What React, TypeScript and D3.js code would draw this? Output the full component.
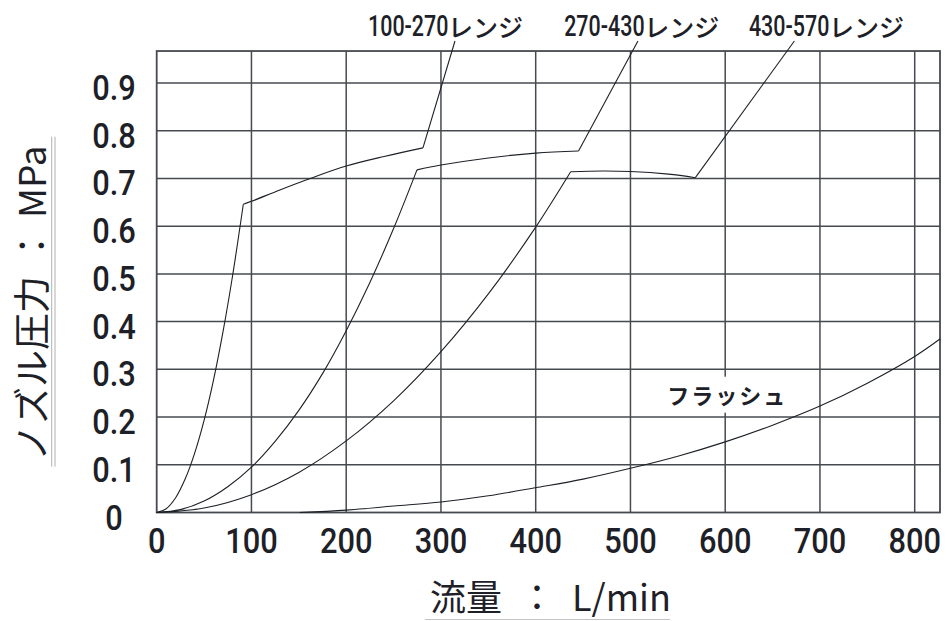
import React from "react";
import * as d3 from "d3";

// ---- data (flow L/min, pressure MPa) ----
const xTicks = [0, 100, 200, 300, 400, 500, 600, 700, 800];
const yTicks = [0, 0.1, 0.2, 0.3, 0.4, 0.5, 0.6, 0.7, 0.8, 0.9];
const yTickLabels = ["0", "0.1", "0.2", "0.3", "0.4", "0.5", "0.6", "0.7", "0.8", "0.9"];

const range100Rise: [number, number][] = [[0, 0], [10, 0.008], [20, 0.031], [30, 0.07], [40, 0.124], [50, 0.193], [60, 0.278], [70, 0.379], [80, 0.495], [91.4, 0.646]];
const range100Top: [number, number][] = [[91.4, 0.646], [100, 0.652], [130, 0.676], [162, 0.7], [200, 0.726], [240, 0.746], [281, 0.764]];
const range270Rise: [number, number][] = [[0, 0], [25, 0.006], [50, 0.024], [75, 0.054], [100, 0.095], [125, 0.149], [150, 0.214], [175, 0.291], [200, 0.381], [225, 0.482], [250, 0.595], [274.7, 0.718]];
const range270Top: [number, number][] = [[274.7, 0.718], [300, 0.728], [350, 0.743], [400, 0.753], [445.2, 0.7575]];
const range430Rise: [number, number][] = [[0, 0], [50, 0.0094], [100, 0.0374], [150, 0.084], [200, 0.15], [250, 0.234], [300, 0.337], [350, 0.458], [400, 0.598], [436.9, 0.714]];
const range430Top: [number, number][] = [[436.9, 0.714], [470, 0.7155], [500, 0.7145], [540, 0.709], [568.5, 0.7016]];
const flush: [number, number][] = [[151, 0], [200, 0.005], [250, 0.0135], [300, 0.022], [350, 0.035], [400, 0.052], [450, 0.07], [500, 0.0926], [550, 0.118], [600, 0.148], [650, 0.183], [700, 0.223], [750, 0.271], [800, 0.327], [827, 0.364]];

const rangeNames = ["100-270", "270-430", "430-570"];
const rangeSuffix = "レンジ";
// leader: from curve end to label
const leaderEnds: [number, number][] = [[314.8, 0.988], [507.9, 0.988], [673, 0.988]];
const labelAnchors: [number, number][] = [[223, 0.998], [430, 0.998], [625, 0.998]];
const flushLabel = "フラッシュ";
const flushLabelAt: [number, number] = [600, 0.228];

const xTitle = ["流量", "：", "L/min"];
const yTitle = ["ノズル圧力", "：", "MPa"];

// ---- layout ----
const W = 946, H = 621;
const xMax = 826.7, yTop = 0.967;
const ink = "#1d2127";
const gridColor = "#464a50";

export default function App() {
  const x = d3.scaleLinear().domain([0, xMax]).range([156.7, 940]);
  const y = d3.scaleLinear().domain([0, 0.9]).range([512.5, 83]);
  const smooth = d3.line<[number, number]>().x(d => x(d[0])).y(d => y(d[1])).curve(d3.curveCatmullRom.alpha(0.5));
  const straight = d3.line<[number, number]>().x(d => x(d[0])).y(d => y(d[1]));

  const rises = [range100Rise, range270Rise, range430Rise];
  const tops = [range100Top, range270Top, range430Top];

  const font = "Roboto, 'Noto Sans', sans-serif";
  const jp = "'Noto Sans CJK JP', sans-serif";

  return (
    <svg width={W} height={H} style={{ position: "absolute", left: 0, top: 0, display: "block", background: "#fff" }}>
      {/* grid */}
      {yTicks.slice(1).map(v => (
        <line key={"h" + v} x1={x(0)} x2={x(xMax)} y1={y(v)} y2={y(v)} stroke={gridColor} strokeWidth={1.5} />
      ))}
      {xTicks.slice(1).map(v => (
        <line key={"v" + v} x1={x(v)} x2={x(v)} y1={y(0)} y2={y(yTop)} stroke={gridColor} strokeWidth={1.5} />
      ))}
      <rect x={x(0)} y={y(yTop)} width={x(xMax) - x(0)} height={y(0) - y(yTop)} fill="none" stroke={gridColor} strokeWidth={1.8} />

      {/* curves */}
      {rises.map((r, i) => <path key={"r" + i} d={smooth(r) || ""} fill="none" stroke={ink} strokeWidth={1.1} />)}
      {tops.map((r, i) => <path key={"t" + i} d={smooth(r) || ""} fill="none" stroke={ink} strokeWidth={1.1} />)}
      {tops.map((r, i) => (
        <path key={"l" + i} d={straight([r[r.length - 1], leaderEnds[i]]) || ""} fill="none" stroke={ink} strokeWidth={1.1} />
      ))}
      <path d={smooth(flush) || ""} fill="none" stroke={ink} strokeWidth={1.1} />

      {/* flush label */}
      <rect x={x(flushLabelAt[0]) - 62} y={y(flushLabelAt[1]) - 27} width={124} height={36} fill="#fff" />
      <text x={x(flushLabelAt[0]) + 2} y={y(flushLabelAt[1])} textAnchor="middle" fontFamily={jp} fontWeight={700} fontSize={22} letterSpacing={2} fill={ink}>{flushLabel}</text>

      {/* range labels: condensed digits + katakana */}
      {rangeNames.map((n, i) => (
        <g key={n} transform={`translate(${x(labelAnchors[i][0])},${y(labelAnchors[i][1])})`}>
          <text transform="scale(0.74,1)" fontFamily={font} fontSize={29} fontWeight={500} fill={ink}>{n}</text>
          <text x={80} y={1} fontFamily={jp} fontSize={25} fontWeight={500} fill={ink}>{rangeSuffix}</text>
        </g>
      ))}

      {/* y tick labels */}
      {yTicks.map((v, i) => (
        <text key={"yl" + v} transform={`translate(114,${y(v) + 17}) scale(0.88,1)`} textAnchor="middle" fontFamily={font} fontSize={35} fontWeight={500} fill={ink}>{yTickLabels[i]}</text>
      ))}
      {/* x tick labels */}
      {xTicks.map(v => (
        <text key={"xl" + v} transform={`translate(${x(v)},553) scale(0.88,1)`} textAnchor="middle" fontFamily={font} fontSize={35} fontWeight={500} fill={ink}>{String(v)}</text>
      ))}

      {/* x title */}
      <text x={430} y={611} fontFamily={jp} fontSize={36} fill={ink}>
        <tspan>{xTitle[0]}</tspan>
        <tspan dx={17}>{xTitle[1]}</tspan>
        <tspan dx={17}>{xTitle[2]}</tspan>
      </text>
      <line x1={425} x2={670} y1={619.5} y2={619.5} stroke="#c4c4c4" strokeWidth={1.2} />

      {/* y title */}
      <text transform="translate(46,461) rotate(-90)" fontFamily={jp} fontSize={37} fill={ink}>
        <tspan>{yTitle[0]}</tspan>
        <tspan dx={12}>{yTitle[1]}</tspan>
        <tspan dx={9}>{yTitle[2]}</tspan>
      </text>
      <line x1={51.7} x2={51.7} y1={136.7} y2={466.7} stroke="#b0b0b0" strokeWidth={1} />
      <line x1={55} x2={55} y1={136.7} y2={466.7} stroke="#b0b0b0" strokeWidth={1} />
    </svg>
  );
}
